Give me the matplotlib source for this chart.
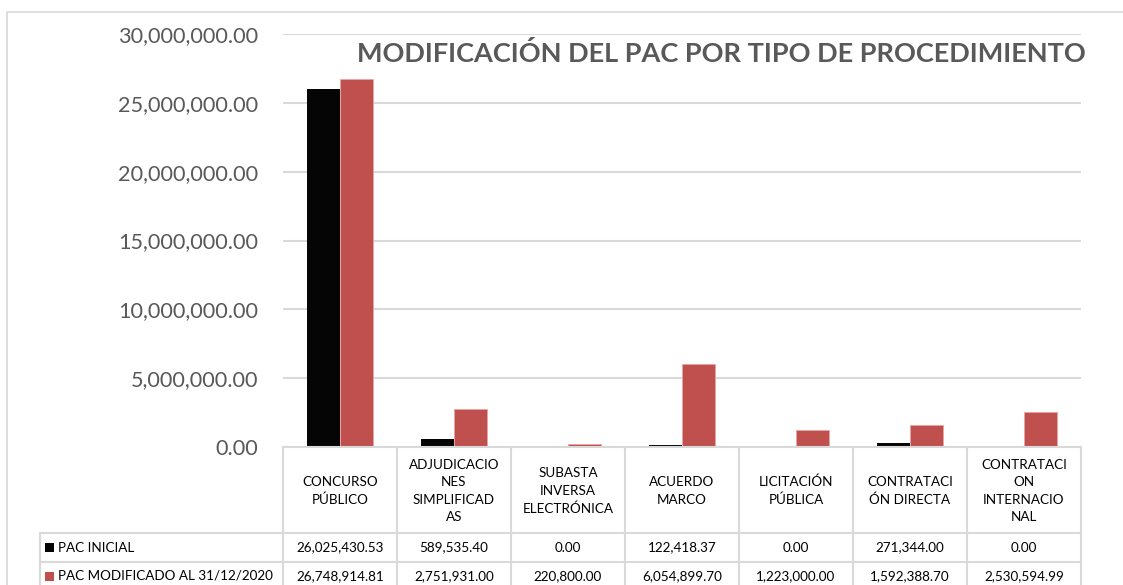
import matplotlib
matplotlib.use("Agg")
import matplotlib.pyplot as plt
from matplotlib.patches import Rectangle
from matplotlib.lines import Line2D

categories = ["CONCURSO\nPÚBLICO", "ADJUDICACIO\nNES\nSIMPLIFICAD\nAS", "SUBASTA\nINVERSA\nELECTRÓNICA",
              "ACUERDO\nMARCO", "LICITACIÓN\nPÚBLICA", "CONTRATACI\nÓN DIRECTA",
              "CONTRATACI\nON\nINTERNACIO\nNAL"]
series_names = ["PAC INICIAL", "PAC MODIFICADO AL 31/12/2020"]
pac_inicial = [26025430.53, 589535.40, 0.00, 122418.37, 0.00, 271344.00, 0.00]
pac_modificado = [26748914.81, 2751931.00, 220800.00, 6054899.70, 1223000.00, 1592388.70, 2530594.99]
colors = ["#050505", "#C0504D"]
title = "MODIFICACIÓN DEL PAC POR TIPO DE PROCEDIMIENTO"

FONT = ["Lato", "DejaVu Sans"]
plt.rcParams["font.family"] = FONT

W, H = 1123, 585
fig = plt.figure(figsize=(W / 100, H / 100), dpi=100)

def fx(px):
    return px / W

def fy(py):
    return 1 - py / H

# outer border
fig.add_artist(Rectangle((fx(7), fy(H + 5)), fx(W + 10 - 7), (H + 5 - 12) / H,
                         transform=fig.transFigure, fill=False, edgecolor="#D9D9D9", lw=1.2))

L, R, T, B = 283, 1081, 34, 447
ax = fig.add_axes([fx(L), fy(B), fx(R - L), (B - T) / H])
n = len(categories)
x = list(range(n))
bw = 0.29
ax.bar([i - bw / 2 for i in x], pac_inicial, width=bw, color=colors[0], zorder=3)
ax.bar([i + bw / 2 for i in x], pac_modificado, width=bw, color=colors[1], zorder=3,
       edgecolor="#E6A5A3", linewidth=0.6)
ax.set_xlim(-0.5, n - 0.5)
ax.set_ylim(0, 30000000)
ax.set_yticks(range(0, 30000001, 5000000))
ax.set_yticklabels([f"{v:,.2f}" for v in range(0, 30000001, 5000000)])
ax.tick_params(axis="y", length=0, pad=18, labelsize=15.6, labelcolor="#595959")
ax.set_xticks([])
for s in ax.spines.values():
    s.set_visible(False)
ax.grid(axis="y", color="#D9D9D9", lw=1.5, zorder=0)
ax.set_axisbelow(True)

fig.text(fx(721), fy(53), title, ha="center", va="center", fontsize=19.5,
         fontweight="bold", color="#595959")

# data table
gc = "#D9D9D9"
row1_top, row2_top, bottom = 533, 562, 600
col_edges = [L + (R - L) * k / n for k in range(n + 1)]

def hline(y, x0, x1):
    fig.add_artist(Line2D([fx(x0), fx(x1)], [fy(y), fy(y)], transform=fig.transFigure, color=gc, lw=1.5))

def vline(xp, y0, y1):
    fig.add_artist(Line2D([fx(xp), fx(xp)], [fy(y0), fy(y1)], transform=fig.transFigure, color=gc, lw=1.5))

hline(B, L, R)
hline(row1_top, 40, R)
hline(row2_top, 40, R)
for xe in col_edges:
    vline(xe, B, bottom)
vline(40, row1_top, bottom)

fs = 9.7
for i, cat in enumerate(categories):
    cx = (col_edges[i] + col_edges[i + 1]) / 2
    fig.text(fx(cx), fy((B + row1_top) / 2 + 1), cat, ha="center", va="center",
             fontsize=fs, color="#000000", linespacing=1.55)
    fig.text(fx(cx), fy((row1_top + row2_top) / 2), f"{pac_inicial[i]:,.2f}", ha="center",
             va="center", fontsize=fs, color="#000000")
    fig.text(fx(cx), fy(row2_top + 14), f"{pac_modificado[i]:,.2f}", ha="center",
             va="center", fontsize=fs, color="#000000")

for k, (name, c) in enumerate(zip(series_names, colors)):
    yc = (row1_top + row2_top) / 2 if k == 0 else row2_top + 14
    fig.add_artist(Rectangle((fx(45), fy(yc + 4.5)), fx(9), 9 / H, transform=fig.transFigure,
                             facecolor=c, edgecolor="none"))
    fig.text(fx(58), fy(yc), name, ha="left", va="center", fontsize=fs, color="#000000")

fig.savefig("out.png", dpi=100)
